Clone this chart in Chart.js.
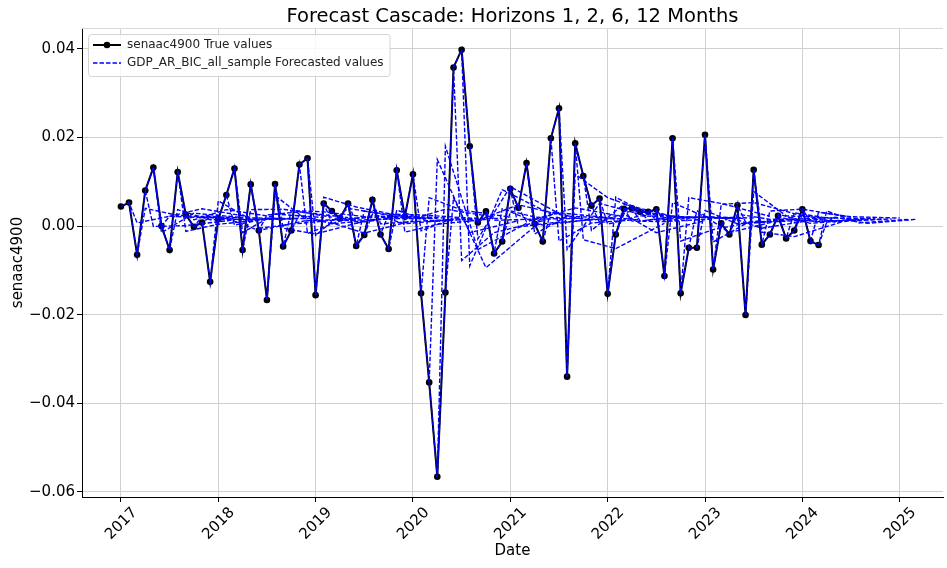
<!DOCTYPE html>
<html><head><meta charset="utf-8">
<script src="https://cdn.jsdelivr.net/npm/chart.js@4.4.1/dist/chart.umd.min.js"></script>
<style>html,body{margin:0;padding:0;background:#fff;} #wrap{width:947px;height:568px;position:relative;}</style>
</head><body><div id="wrap"><canvas id="c"></canvas></div>
<script>
// ---------------- data ----------------
const startYear = 2017;   // first observation: 2017-01, monthly
const trueValues = [
  0.0044, 0.0053, -0.0065, 0.0080, 0.0132, 0.0000, -0.0054, 0.0122, 0.0026, -0.0002,
  0.0008, -0.0126, 0.0015, 0.0070, 0.0130, -0.0054, 0.0094, -0.0010, -0.0167, 0.0095,
  -0.0046, -0.0010, 0.0139, 0.0153, -0.0156, 0.0051, 0.0034, 0.0017, 0.0051, -0.0045,
  -0.0020, 0.0059, -0.0019, -0.0052, 0.0126, 0.0021, 0.0117, -0.0152, -0.0353, -0.0566,
  -0.0150, 0.0358, 0.0398, 0.0180, 0.0008, 0.0033, -0.0062, -0.0035, 0.0084, 0.0041,
  0.0142, 0.0005, -0.0035, 0.0198, 0.0266, -0.0340, 0.0187, 0.0113, 0.0046, 0.0062,
  -0.0153, -0.0019, 0.0039, 0.0040, 0.0032, 0.0032, 0.0038, -0.0113, 0.0198, -0.0152,
  -0.0049, -0.0049, 0.0206, -0.0098, 0.0006, -0.0019, 0.0047, -0.0201, 0.0127, -0.0042,
  -0.0019, 0.0023, -0.0028, -0.0010, 0.0038, -0.0034, -0.0043
];
const horizons = [1, 2, 6, 12];
// forecasts per origin month (index = origin), one array per horizon
const fcH1 = [
  0.0053, -0.0065, 0.0080, 0.0132, 0.0000, -0.0054, 0.0122, 0.0026, -0.0002, 0.0008,
  -0.0126, 0.0015, 0.0070, 0.0130, -0.0054, 0.0094, -0.0010, -0.0167, 0.0095, -0.0046,
  -0.0010, 0.0139, 0.0153, -0.0156, 0.0051, 0.0034, 0.0017, 0.0051, -0.0045, -0.0020,
  0.0059, -0.0019, -0.0052, 0.0126, 0.0021, 0.0117, -0.0152, -0.0353, -0.0566, -0.0150,
  0.0358, 0.0398, 0.0180, 0.0008, 0.0033, -0.0062, -0.0035, 0.0084, 0.0041, 0.0142,
  0.0005, -0.0035, 0.0198, 0.0266, -0.0340, 0.0187, 0.0113, 0.0046, 0.0062, -0.0153,
  -0.0019, 0.0039, 0.0040, 0.0032, 0.0032, 0.0038, -0.0113, 0.0198, -0.0152, -0.0049,
  -0.0049, 0.0206, -0.0098, 0.0006, -0.0019, 0.0047, -0.0201, 0.0127, -0.0042, -0.0019,
  0.0023, -0.0028, -0.0010, 0.0038, -0.0034, -0.0043, 0.0008
];
const fcH2 = [
  0.0007, 0.0040, -0.0001, -0.0015, 0.0022, 0.0037, -0.0012, 0.0014, 0.0022, 0.0020,
  0.0057, 0.0018, 0.0002, -0.0015, 0.0037, -0.0005, 0.0025, 0.0069, -0.0005, 0.0035,
  0.0025, -0.0017, -0.0021, 0.0065, 0.0007, 0.0012, 0.0017, 0.0007, 0.0034, 0.0027,
  0.0005, 0.0027, 0.0036, -0.0014, 0.0016, -0.0011, 0.0064, 0.0150, 0.0180, 0.0064,
  -0.0078, -0.0090, -0.0029, 0.0020, 0.0013, 0.0039, 0.0032, -0.0002, 0.0010, -0.0018,
  0.0020, 0.0032, -0.0034, -0.0053, 0.0117, -0.0031, -0.0010, 0.0009, 0.0004, 0.0065,
  0.0027, 0.0011, 0.0011, 0.0013, 0.0013, 0.0011, 0.0053, -0.0034, 0.0064, 0.0035,
  0.0035, -0.0036, 0.0049, 0.0020, 0.0027, 0.0009, 0.0078, -0.0014, 0.0034, 0.0027,
  0.0016, 0.0030, 0.0025, 0.0011, 0.0031, 0.0034, 0.0020
];
const fcH6 = [
  0.0022, 0.0024, 0.0001, 0.0029, 0.0039, 0.0014, 0.0004, 0.0037, 0.0019, 0.0014,
  0.0015, -0.0010, 0.0017, 0.0027, 0.0038, 0.0004, 0.0032, 0.0012, -0.0018, 0.0032,
  0.0005, 0.0012, 0.0040, 0.0043, -0.0016, 0.0023, 0.0020, 0.0017, 0.0023, 0.0005,
  0.0010, 0.0025, 0.0010, 0.0004, 0.0038, 0.0018, 0.0036, -0.0015, -0.0053, -0.0094,
  -0.0015, 0.0082, 0.0089, 0.0048, 0.0015, 0.0020, 0.0002, 0.0007, 0.0030, 0.0022,
  0.0041, 0.0015, 0.0007, 0.0051, 0.0064, -0.0051, 0.0049, 0.0035, 0.0023, 0.0026,
  -0.0015, 0.0010, 0.0021, 0.0021, 0.0020, 0.0020, 0.0021, -0.0008, 0.0051, -0.0015,
  0.0005, 0.0005, 0.0053, -0.0005, 0.0015, 0.0010, 0.0023, -0.0024, 0.0038, 0.0006,
  0.0010, 0.0018, 0.0009, 0.0012, 0.0021, 0.0007, 0.0006
];
const fcH12 = [
  0.0018, 0.0018, 0.0014, 0.0019, 0.0020, 0.0016, 0.0015, 0.0020, 0.0017, 0.0016,
  0.0017, 0.0013, 0.0017, 0.0019, 0.0020, 0.0015, 0.0019, 0.0016, 0.0011, 0.0019,
  0.0015, 0.0016, 0.0021, 0.0021, 0.0012, 0.0018, 0.0018, 0.0017, 0.0018, 0.0015,
  0.0016, 0.0018, 0.0016, 0.0015, 0.0020, 0.0017, 0.0020, 0.0012, 0.0006, -0.0001,
  0.0012, 0.0027, 0.0028, 0.0022, 0.0017, 0.0017, 0.0015, 0.0015, 0.0019, 0.0018,
  0.0021, 0.0017, 0.0015, 0.0022, 0.0024, 0.0006, 0.0022, 0.0020, 0.0018, 0.0018,
  0.0012, 0.0016, 0.0018, 0.0018, 0.0017, 0.0017, 0.0018, 0.0013, 0.0022, 0.0012,
  0.0015, 0.0015, 0.0023, 0.0013, 0.0017, 0.0016, 0.0018, 0.0010, 0.0020, 0.0015,
  0.0016, 0.0017, 0.0016, 0.0016, 0.0018, 0.0015, 0.0015
];
const yTicks = [-0.06, -0.04, -0.02, 0.00, 0.02, 0.04];
const xTicks = [2017, 2018, 2019, 2020, 2021, 2022, 2023, 2024, 2025];
const titleText = 'Forecast Cascade: Horizons 1, 2, 6, 12 Months';
const seriesLabels = ['senaac4900 True values', 'GDP_AR_BIC_all_sample Forecasted values'];
const xTitle = 'Date';
const yTitle = 'senaac4900';

// ---------------- build ----------------
const FONT = "'DejaVu Sans', 'Liberation Sans', sans-serif";
Chart.defaults.font.family = FONT;
Chart.defaults.color = '#000';

const monthX = i => startYear + i / 12;
const fcByH = [fcH1, fcH2, fcH6, fcH12];
const BLUE = '#0000ff';
const DASH = [4.5, 2];

const datasets = [];
for (let o = 0; o < trueValues.length; o++) {
  const pts = [{x: monthX(o), y: trueValues[o]}];
  horizons.forEach((h, k) => pts.push({x: monthX(o + h), y: fcByH[k][o]}));
  datasets.push({
    label: o === 0 ? seriesLabels[1] : '_nolegend_',
    data: pts,
    borderColor: BLUE,
    borderWidth: 1.4,
    borderDash: DASH,
    pointRadius: 0,
    fill: false,
    tension: 0,
    order: 0
  });
}
datasets.push({
  label: seriesLabels[0],
  data: trueValues.map((v, i) => ({x: monthX(i), y: v})),
  borderColor: '#000',
  backgroundColor: '#000',
  borderWidth: 2,
  pointRadius: 3.3,
  pointBorderWidth: 0,
  tension: 0,
  order: 1
});

const fmtY = v => (v < 0 ? '\u2212' : '') + Math.abs(v).toFixed(2);

const legendPlugin = {
  id: 'mplLegend',
  afterDraw(chart) {
    const ctx = chart.ctx;
    ctx.save();
    ctx.font = '12px ' + FONT;
    const w = Math.max(ctx.measureText(seriesLabels[0]).width, ctx.measureText(seriesLabels[1]).width);
    const bx = 88, by = 34, bw = 127 - bx + w + 6, bh = 42;
    ctx.beginPath();
    if (ctx.roundRect) ctx.roundRect(bx + 0.5, by + 0.5, bw, bh, 3); else ctx.rect(bx + 0.5, by + 0.5, bw, bh);
    ctx.fillStyle = 'rgba(255,255,255,0.85)';
    ctx.fill();
    ctx.strokeStyle = '#d4d4d4';
    ctx.lineWidth = 1;
    ctx.stroke();
    // entry 1
    ctx.strokeStyle = '#000'; ctx.lineWidth = 2; ctx.setLineDash([]);
    ctx.beginPath(); ctx.moveTo(93, 45); ctx.lineTo(121, 45); ctx.stroke();
    ctx.fillStyle = '#000';
    ctx.beginPath(); ctx.arc(107, 45, 3.3, 0, Math.PI * 2); ctx.fill();
    // entry 2
    ctx.strokeStyle = BLUE; ctx.lineWidth = 1.4; ctx.setLineDash(DASH);
    ctx.beginPath(); ctx.moveTo(93, 63); ctx.lineTo(121, 63); ctx.stroke();
    ctx.setLineDash([]);
    ctx.fillStyle = '#222';
    ctx.textBaseline = 'middle'; ctx.textAlign = 'left';
    ctx.fillText(seriesLabels[0], 127, 45);
    ctx.fillText(seriesLabels[1], 127, 63);
    ctx.restore();
  }
};
const topLinePlugin = {
  id: 'topLine',
  beforeDatasetsDraw(chart) {
    const {ctx, chartArea: a} = chart;
    ctx.save();
    ctx.strokeStyle = '#d8d8d8'; ctx.lineWidth = 1;
    ctx.beginPath(); ctx.moveTo(a.left, a.top + 0.5); ctx.lineTo(a.right, a.top + 0.5); ctx.stroke();
    ctx.restore();
  }
};

new Chart(document.getElementById('c'), {
  type: 'line',
  data: {datasets},
  options: {
    responsive: true,
    maintainAspectRatio: false,
    animation: false,
    devicePixelRatio: 1,
    layout: {padding: {left: 0, right: 2, top: 0, bottom: 0}},
    plugins: {
      legend: {display: false},
      tooltip: {enabled: false},
      title: {
        display: true, text: titleText, fullSize: false,
        font: {size: 19.5, weight: 'normal', lineHeight: 1.2}, color: '#000',
        padding: {top: 5.3, bottom: -0.7}
      }
    },
    scales: {
      x: {
        type: 'linear',
        min: 2016.6003, max: 2025.4448,
        afterBuildTicks: ax => { ax.ticks = xTicks.map(v => ({value: v})); },
        afterFit: ax => { ax.height = 71; },
        ticks: {
          font: {size: 15}, color: '#000',
          maxRotation: 45, minRotation: 45, autoSkip: false,
          labelOffset: 14, padding: 2,
          callback: v => String(v)
        },
        grid: {color: '#d0d0d0', lineWidth: 1, tickColor: '#000', tickLength: 5, drawTicks: true},
        border: {display: true, color: '#000', width: 1},
        title: {display: true, text: xTitle, font: {size: 15}, color: '#000', padding: {top: 0, bottom: 8}}
      },
      y: {
        type: 'linear',
        min: -0.06117, max: 0.0447,
        afterBuildTicks: ax => { ax.ticks = yTicks.map(v => ({value: v})); },
        afterFit: ax => { ax.width = 82; },
        ticks: {font: {size: 15}, color: '#000', padding: 2, callback: v => fmtY(v)},
        grid: {color: '#d0d0d0', lineWidth: 1, tickColor: '#000', tickLength: 5, drawTicks: true},
        border: {display: true, color: '#000', width: 1},
        title: {display: true, text: yTitle, font: {size: 15}, color: '#000', padding: {top: 9, bottom: 0}}
      }
    }
  },
  plugins: [topLinePlugin, legendPlugin]
});
</script>
</body></html>
